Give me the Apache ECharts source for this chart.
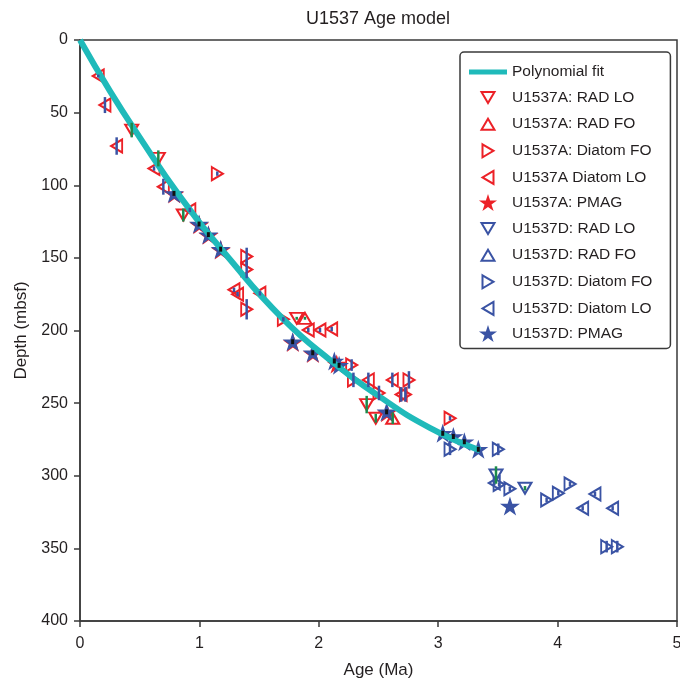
<!DOCTYPE html>
<html><head><meta charset="utf-8">
<script src="https://cdn.jsdelivr.net/npm/echarts@6.0.0/dist/echarts.min.js"></script>
<style>html,body{margin:0;padding:0;background:#fff}#c{width:680px;height:681px}</style>
</head><body><div id="c"></div>
<script>
// Points on the polynomial fit curve: [age Ma, depth m]
const fitCurve = [[0,0],[0.25,35],[0.5,67],[0.84,108],[1.26,151.5],[1.7,192],[2.09,220],[2.5,245],[2.93,267],[3.35,282.5]];
// Datums: [age Ma, depth m, half length of depth uncertainty bar]
const aRadLO = [[0.433,62,5],[0.656,81.5,5.5],[0.865,120.5,4.5],[1.815,191.6,1],[2.401,251,6],[2.477,260.4,3]];
const aRadFO = [[1.884,191.6,1],[2.619,260.4,4]];
const aDiatomFO = [[1.15,92,1.5],[1.396,149,6],[1.396,158,6],[1.396,185.4,7],[1.703,192.3,1.5],[2.275,223.8,4],[2.29,234,5],[2.504,243,5],[2.755,234,6],[2.725,244,5],[3.099,260.4,1.5]];
const aDiatomLO = [[0.153,24.8,1],[0.209,44.8,5.5],[0.307,73,6],[0.62,88.5,1.5],[0.698,101,5.5],[0.92,117,1.5],[1.29,172,1.5],[1.32,175,1.5],[1.507,174.4,1.5],[1.912,199.7,1.5],[2.01,199.7,1.5],[2.108,199,1.5],[2.415,234,5],[2.616,234,5],[2.69,244,5]];
const aPmag = [[0.79,106,0],[0.999,127.2,0],[1.077,134.5,0],[1.18,144.5,0],[1.783,208.3,0],[1.951,215.8,0],[2.15,223,0],[2.571,256.6,0]];
const dRadLO = [[3.484,299.5,6],[3.727,308.6,1.5]];
const dRadFO = [];
const dDiatomFO = [[3.099,281.8,4],[3.503,281.8,4],[3.51,306,1.5],[3.60,309,1.5],[3.908,316.7,1.5],[4.006,312,1.5],[4.104,305.7,1.5],[4.411,348.8,4],[4.50,348.8,4]];
const dDiatomLO = [[3.47,305,1.5],[4.21,322.4,1.5],[4.313,312.6,1.5],[4.461,322.4,1.5]];
const dPmag = [[0.787,105.6,1.7],[0.997,126.7,1.7],[1.075,134,1.7],[1.178,144,1.7],[1.781,207.7,1.7],[1.949,215.3,1.7],[2.13,221,1.7],[2.17,224,1.7],[2.568,256,1.7],[3.038,270.8,1.7],[3.127,273,1.7],[3.219,276.6,1.7],[3.336,281.8,1.7],[3.601,320.8,0]];

const RED = '#ec2127', BLUE = '#3a53a4', GREEN = '#1c8a4c', TEAL = '#1fbaba', INK = '#231f20';
const FONT = '"Liberation Sans", Arial, sans-serif';

const P_DOWN = 'path://M0,0 L13,0 L6.5,11 Z';
const P_UP = 'path://M6.5,0 L13,11 L0,11 Z';
const P_RIGHT = 'path://M0,0 L11,6.5 L0,13 Z';
const P_LEFT = 'path://M11,0 L0,6.5 L11,13 Z';
const P_STAR = 'path://M50,0 L61.2,34.5 L97.6,34.5 L68.2,55.9 L79.4,90.5 L50,69.1 L20.6,90.5 L31.8,55.9 L2.4,34.5 L38.8,34.5 Z';
// legend icons padded to a 19x19 box so they keep the plotted size
const L_DOWN = 'path://M3,4 L16,4 L9.5,15 Z M0,0 M19,19';
const L_UP = 'path://M9.5,4 L16,15 L3,15 Z M0,0 M19,19';
const L_RIGHT = 'path://M4,3 L15,9.5 L4,16 Z M0,0 M19,19';
const L_LEFT = 'path://M15,3 L4,9.5 L15,16 Z M0,0 M19,19';
const L_STAR = 'path://M50,2 L61.2,36.5 L97.6,36.5 L68.2,57.9 L79.4,92.5 L50,71.1 L20.6,92.5 L31.8,57.9 L2.4,36.5 L38.8,36.5 Z M0,0 M100,100';
const L_LINE = 'path://M0,7 L38,7 L38,12 L0,12 Z M0,0 M38,19';

function tri(name, data, color, path, size) {
  return { name, type: 'scatter', data, symbol: path, symbolSize: size,
    itemStyle: { color: 'rgba(255,255,255,0)', borderColor: color, borderWidth: 2, opacity: 1 },
    z: 2, animation: false, encode: { x: 0, y: 1 } };
}
function star(name, data, color, z) {
  return { name, type: 'scatter', data, symbol: P_STAR, symbolSize: [20, 19],
    itemStyle: { color: color, borderWidth: 0, opacity: 1 }, z, animation: false, encode: { x: 0, y: 1 } };
}
function bars(data, color, w) {
  return { type: 'custom', data, z: 6, silent: true, animation: false, clip: true,
    renderItem: function (params, api) {
      const x = api.value(0), d = api.value(1), e = api.value(2);
      if (!e) return null;
      const p1 = api.coord([x, d - e]), p2 = api.coord([x, d + e]);
      return { type: 'line', shape: { x1: p1[0], y1: p1[1], x2: p2[0], y2: p2[1] },
        style: { stroke: color, lineWidth: w, lineCap: 'butt' } };
    } };
}

const legendData = [
  { name: 'Polynomial fit', icon: L_LINE, itemStyle: { color: TEAL, borderWidth: 0 } },
  { name: 'U1537A: RAD LO', icon: L_DOWN },
  { name: 'U1537A: RAD FO', icon: L_UP },
  { name: 'U1537A: Diatom FO', icon: L_RIGHT },
  { name: 'U1537A Diatom LO', icon: L_LEFT },
  { name: 'U1537A: PMAG', icon: L_STAR },
  { name: 'U1537D: RAD LO', icon: L_DOWN },
  { name: 'U1537D: RAD FO', icon: L_UP },
  { name: 'U1537D: Diatom FO', icon: L_RIGHT },
  { name: 'U1537D: Diatom LO', icon: L_LEFT },
  { name: 'U1537D: PMAG', icon: L_STAR }
];

const chart = echarts.init(document.getElementById('c'), null, { renderer: 'canvas' });
chart.setOption({
  backgroundColor: '#fff',
  animation: false,
  textStyle: { fontFamily: FONT, color: INK },
  title: { text: 'U1537 Age model', left: 378, textAlign: 'center', top: 10, padding: 0,
    textStyle: { fontFamily: FONT, fontSize: 18, fontWeight: 'normal', color: INK } },
  grid: { left: 80, right: 3, top: 40, bottom: 60, show: true, borderColor: '#3a3a3a', borderWidth: 1.5,
    containLabel: false, outerBoundsMode: 'none' },
  legend: {
    orient: 'vertical', left: 460, top: 52, padding: [10.5, 18, 5, 9],
    itemWidth: 38, itemHeight: 19, itemGap: 5.6, symbolKeepAspect: true,
    borderColor: '#3a3a3a', borderWidth: 1.5, borderRadius: 4, backgroundColor: '#fff',
    textStyle: { fontFamily: FONT, fontSize: 15.5, color: INK, lineHeight: 18 },
    selectedMode: false, data: legendData
  },
  xAxis: {
    type: 'value', min: 0, max: 5, interval: 1,
    name: 'Age (Ma)', nameLocation: 'middle', nameGap: 41,
    nameTextStyle: { fontFamily: FONT, fontSize: 17, color: INK },
    axisLine: { onZero: false, lineStyle: { color: '#3a3a3a', width: 1.5 } },
    axisTick: { show: true, inside: false, length: 6, lineStyle: { color: '#3a3a3a', width: 1.5 } },
    axisLabel: { margin: 15, fontFamily: FONT, fontSize: 16, color: INK },
    splitLine: { show: false }
  },
  yAxis: {
    type: 'value', inverse: true, min: 0, max: 400, interval: 50,
    name: 'Depth (mbsf)', nameLocation: 'middle', nameGap: 50, nameRotate: 90,
    nameTextStyle: { fontFamily: FONT, fontSize: 17, color: INK },
    axisLine: { onZero: false, lineStyle: { color: '#3a3a3a', width: 1.5 } },
    axisTick: { show: true, inside: false, length: 6, lineStyle: { color: '#3a3a3a', width: 1.5 } },
    axisLabel: { margin: 12, fontFamily: FONT, fontSize: 16, color: INK },
    splitLine: { show: false }
  },
  series: [
    tri('U1537A: RAD LO', aRadLO, RED, P_DOWN, [13, 11]),
    tri('U1537A: RAD FO', aRadFO, RED, P_UP, [13, 11]),
    tri('U1537A: Diatom FO', aDiatomFO, RED, P_RIGHT, [11, 13]),
    tri('U1537A Diatom LO', aDiatomLO, RED, P_LEFT, [11, 13]),
    star('U1537A: PMAG', aPmag, RED, 3),
    tri('U1537D: RAD LO', dRadLO, BLUE, P_DOWN, [13, 11]),
    tri('U1537D: RAD FO', dRadFO, BLUE, P_UP, [13, 11]),
    tri('U1537D: Diatom FO', dDiatomFO, BLUE, P_RIGHT, [11, 13]),
    tri('U1537D: Diatom LO', dDiatomLO, BLUE, P_LEFT, [11, 13]),
    star('U1537D: PMAG', dPmag, BLUE, 4),
    { name: 'Polynomial fit', type: 'line', data: fitCurve, smooth: true, symbol: 'none', z: 5,
      lineStyle: { color: TEAL, width: 6 }, itemStyle: { color: TEAL }, animation: false },
    bars(aDiatomFO.concat(aDiatomLO, dDiatomFO, dDiatomLO), BLUE, 2.5),
    bars(aRadLO.concat(aRadFO, dRadLO), GREEN, 2.5),
    bars(dPmag, '#111', 3)
  ]
});
</script></body></html>
